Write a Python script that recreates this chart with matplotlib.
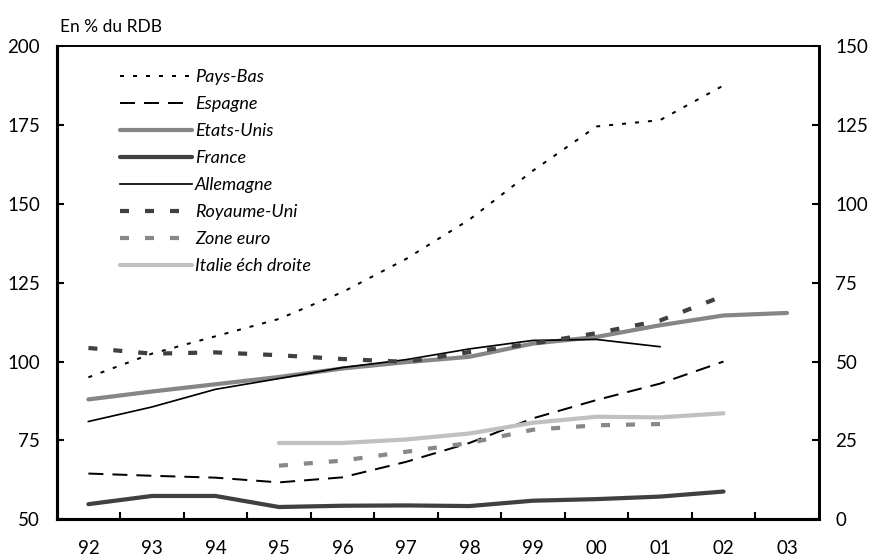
import matplotlib
matplotlib.use("Agg")
import matplotlib.pyplot as plt
import numpy as np

plt.rcParams['font.family'] = ['Lato', 'DejaVu Sans']
plt.rcParams['lines.scale_dashes'] = False

years = ['92', '93', '94', '95', '96', '97', '98', '99', '00', '01', '02', '03']

pays_bas = [95, 102.5, 108, 113.5, 122, 132.5, 145, 160.5, 174.5, 176.5, 187.5, None]
espagne = [64.5, 63.8, 63.2, 61.7, 63.3, 68.2, 74.2, 82, 87.8, 93, 100, None]
etats_unis = [88, 90.5, 92.8, 95.1, 97.8, 99.8, 101.5, 105.7, 107.8, 111.5, 114.6, 115.4]
france = [54.8, 57.4, 57.4, 53.9, 54.3, 54.4, 54.2, 55.9, 56.4, 57.2, 58.8, None]
allemagne = [81, 85.6, 91.2, 94.6, 98.1, 100.6, 104, 106.7, 107, 104.7, None, None]
royaume_uni = [104.3, 102.5, 102.9, 102, 100.8, 99.9, 103, 105.7, 109, 113, 120.8, None]
zone_euro = [None, None, None, 67, 68.6, 71.4, 74.2, 78.4, 79.8, 80.2, None, None]
italie = [None, None, None, 24.2, 24.2, 25.3, 27.2, 30.6, 32.5, 32.3, 33.6, None]  # right axis

labels = ['Pays-Bas', 'Espagne', 'Etats-Unis', 'France', 'Allemagne',
          'Royaume-Uni', 'Zone euro', 'Italie éch droite']

def arr(v):
    return np.array([np.nan if a is None else a for a in v], dtype=float)

x = np.arange(len(years))
px = 0.72  # points per pixel at dpi 100

fig = plt.figure(figsize=(8.69, 5.59), dpi=100)
ax = fig.add_axes([0.0652, 0.0710, 0.8770, 0.8467])
ax2 = ax.twinx()

h = []
h += ax.plot(x, arr(pays_bas), color='black', lw=2.0*px, dashes=(4*px, 9*px), label=labels[0])
h += ax.plot(x, arr(espagne), color='black', lw=2.0*px, dashes=(15*px, 9*px), label=labels[1])
h += ax.plot(x, arr(etats_unis), color='#868686', lw=4.2*px, solid_capstyle='round', label=labels[2])
h += ax.plot(x, arr(france), color='#404040', lw=4.2*px, solid_capstyle='round', label=labels[3])
h += ax.plot(x, arr(allemagne), color='black', lw=1.7*px, label=labels[4])
h += ax.plot(x, arr(royaume_uni), color='#404040', lw=4.2*px, dashes=(9*px, 16*px), label=labels[5])
h += ax.plot(x, arr(zone_euro), color='#888888', lw=4.2*px, dashes=(9*px, 16*px), label=labels[6])
h += ax2.plot(x, arr(italie), color='#c0c0c0', lw=4.2*px, solid_capstyle='round', label=labels[7])

ax.set_xlim(-0.5, 11.5)
ax.set_ylim(50, 200)
ax2.set_ylim(0, 150)
ax.set_yticks([50, 75, 100, 125, 150, 175, 200])
ax2.set_yticks([0, 25, 50, 75, 100, 125, 150])
ax.set_xticks(x)
ax.set_xticklabels(years)
ax.set_xticks(np.arange(0.5, 11, 1), minor=True)
ax.tick_params(axis='x', which='major', length=0, pad=15, labelsize=13.5)
ax.tick_params(axis='x', which='minor', direction='in', length=5, width=1.5)
ax.tick_params(axis='y', direction='in', length=5, width=1.5, pad=12, labelsize=13.5)
ax2.tick_params(axis='y', direction='in', length=5, width=1.5, pad=12, labelsize=13.5)

for a in (ax, ax2):
    a.spines['left'].set_linewidth(2.2)
    a.spines['bottom'].set_linewidth(2.2)
    a.spines['right'].set_linewidth(2.0)
    a.spines['top'].set_linewidth(1.2)

fig.text(0.069, 0.952, 'En % du RDB', fontsize=12.5, ha='left', va='center')

leg = ax2.legend(handles=h, loc='upper left', bbox_to_anchor=(0.083, 0.951),
                 frameon=False, borderaxespad=0, borderpad=0,
                 handlelength=4.0, handletextpad=0.15, labelspacing=0.61,
                 prop={'style': 'italic', 'size': 13})

fig.savefig('out.png', dpi=100)
